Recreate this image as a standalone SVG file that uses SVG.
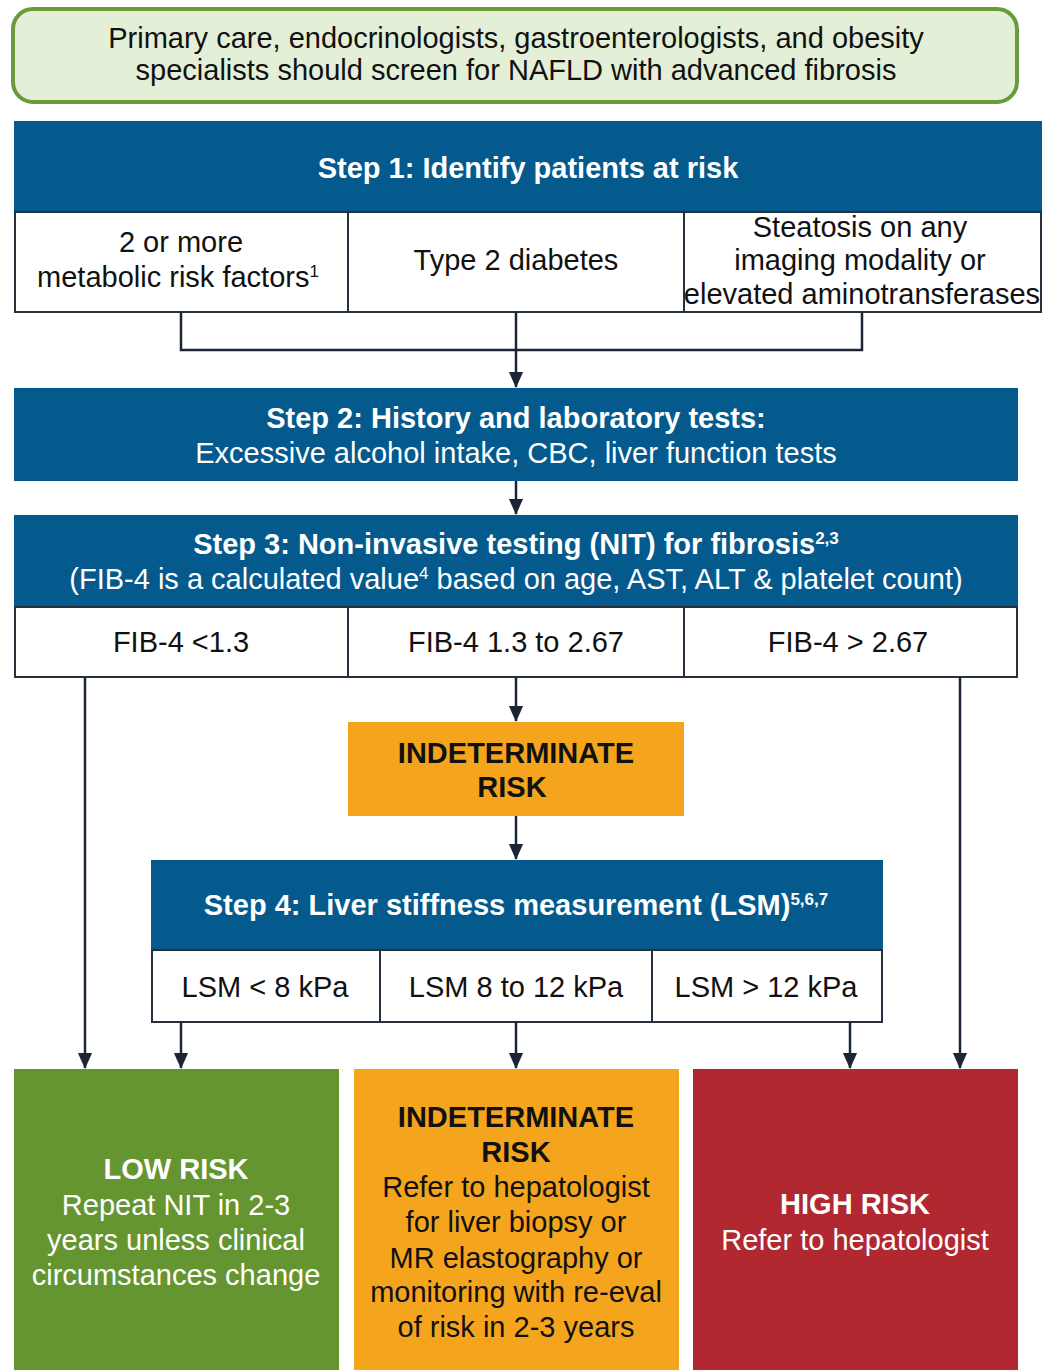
<svg xmlns="http://www.w3.org/2000/svg" width="1042" height="1370" viewBox="0 0 1042 1370">
<style>
text{font-family:"Liberation Sans",Arial,sans-serif;text-anchor:middle}
.hdr{fill:#045a8d}
.cell{fill:#ffffff;stroke:#27313d;stroke-width:2}
.wb{fill:#ffffff;font-weight:bold;font-size:29px}
.w{fill:#ffffff;font-size:29px}
.b{fill:#111111;font-size:29px}
.bb{fill:#111111;font-size:29px;font-weight:bold}
.sup{font-size:17px}
.con{fill:none;stroke:#1b2535;stroke-width:2.5}
</style>
<defs>
<marker id="arr" markerUnits="userSpaceOnUse" markerWidth="16" markerHeight="18" refX="17" refY="8" orient="auto" viewBox="0 0 18 16">
<path d="M0,0 L18,8 L0,16 Z" fill="#1b2535"/>
</marker>
</defs>

<g id="top">
<rect x="13" y="9" width="1004" height="93" rx="20" fill="#e3efd7" stroke="#6b9a3b" stroke-width="4"/>
<text x="516" y="48" class="b">Primary care, endocrinologists, gastroenterologists, and obesity</text>
<text x="516" y="80" class="b">specialists should screen for NAFLD with advanced fibrosis</text>
</g>

<g id="step1">
<rect x="14" y="121" width="1028" height="91" class="hdr"/>
<text x="528" y="178" class="wb">Step 1: Identify patients at risk</text>
</g>
<g id="s1-metabolic">
<rect x="15" y="212" width="333" height="100" class="cell"/>
<text x="181" y="252" class="b">2 or more</text>
<text x="178" y="287" class="b">metabolic risk factors<tspan class="sup" dy="-10">1</tspan></text>
</g>
<g id="s1-diabetes">
<rect x="348" y="212" width="336" height="100" class="cell"/>
<text x="516" y="270" class="b">Type 2 diabetes</text>
</g>
<g id="s1-steatosis">
<rect x="684" y="212" width="357" height="100" class="cell"/>
<text x="860" y="237" class="b">Steatosis on any</text>
<text x="860" y="270" class="b">imaging modality or</text>
<text x="862" y="304" class="b">elevated aminotransferases</text>
</g>

<g id="step2">
<rect x="14" y="388" width="1004" height="93" class="hdr"/>
<text x="516" y="428" class="wb">Step 2: History and laboratory tests:</text>
<text x="516" y="463" class="w">Excessive alcohol intake, CBC, liver function tests</text>
</g>

<g id="step3">
<rect x="14" y="515" width="1004" height="92" class="hdr"/>
<text x="516" y="554" class="wb">Step 3: Non-invasive testing (NIT) for fibrosis<tspan class="sup" dy="-10">2,3</tspan></text>
<text x="516" y="589" class="w">(FIB-4 is a calculated value<tspan class="sup" dy="-10">4</tspan><tspan dy="10"> based on age, AST, ALT &amp; platelet count)</tspan></text>
</g>
<g id="fib-low">
<rect x="15" y="607" width="333" height="70" class="cell"/>
<text x="181" y="652" class="b">FIB-4 &lt;1.3</text>
</g>
<g id="fib-mid">
<rect x="348" y="607" width="336" height="70" class="cell"/>
<text x="516" y="652" class="b">FIB-4 1.3 to 2.67</text>
</g>
<g id="fib-high">
<rect x="684" y="607" width="333" height="70" class="cell"/>
<text x="848" y="652" class="b">FIB-4 &gt; 2.67</text>
</g>

<g id="indet1">
<rect x="348" y="722" width="336" height="94" fill="#f5a41d"/>
<text x="516" y="763" class="bb">INDETERMINATE</text>
<text x="512" y="797" class="bb">RISK</text>
</g>

<g id="step4">
<rect x="151" y="860" width="732" height="90" class="hdr"/>
<text x="516" y="915" class="wb">Step 4: Liver stiffness measurement (LSM)<tspan class="sup" dy="-10">5,6,7</tspan></text>
</g>
<g id="lsm-low">
<rect x="152" y="950" width="228" height="72" class="cell"/>
<text x="265" y="997" class="b">LSM &lt; 8 kPa</text>
</g>
<g id="lsm-mid">
<rect x="380" y="950" width="272" height="72" class="cell"/>
<text x="516" y="997" class="b">LSM 8 to 12 kPa</text>
</g>
<g id="lsm-high">
<rect x="652" y="950" width="230" height="72" class="cell"/>
<text x="766" y="997" class="b">LSM &gt; 12 kPa</text>
</g>

<g id="low-risk">
<rect x="14" y="1069" width="325" height="301" fill="#659530"/>
<text x="176" y="1179" class="wb">LOW RISK</text>
<text x="176" y="1215" class="w">Repeat NIT in 2-3</text>
<text x="176" y="1250" class="w">years unless clinical</text>
<text x="176" y="1285" class="w">circumstances change</text>
</g>
<g id="indet-risk">
<rect x="354" y="1069" width="325" height="301" fill="#f5a41d"/>
<text x="516" y="1127" class="bb">INDETERMINATE</text>
<text x="516" y="1162" class="bb">RISK</text>
<text x="516" y="1197" class="b">Refer to hepatologist</text>
<text x="516" y="1232" class="b">for liver biopsy or</text>
<text x="516" y="1268" class="b">MR elastography or</text>
<text x="516" y="1302" class="b">monitoring with re-eval</text>
<text x="516" y="1337" class="b">of risk in 2-3 years</text>
</g>
<g id="high-risk">
<rect x="693" y="1069" width="325" height="301" fill="#b12830"/>
<text x="855" y="1214" class="wb">HIGH RISK</text>
<text x="855" y="1250" class="w">Refer to hepatologist</text>
</g>

<g id="connectors">
<path class="con" d="M181,312 V350 H862 V312"/>
<path class="con" d="M516,312 V387" marker-end="url(#arr)"/>
<path class="con" d="M516,481 V514" marker-end="url(#arr)"/>
<path class="con" d="M516,677 V721" marker-end="url(#arr)"/>
<path class="con" d="M516,816 V859" marker-end="url(#arr)"/>
<path class="con" d="M85,677 V1068" marker-end="url(#arr)"/>
<path class="con" d="M960,677 V1068" marker-end="url(#arr)"/>
<path class="con" d="M181,1022 V1068" marker-end="url(#arr)"/>
<path class="con" d="M516,1022 V1068" marker-end="url(#arr)"/>
<path class="con" d="M850,1022 V1068" marker-end="url(#arr)"/>
</g>
</svg>
